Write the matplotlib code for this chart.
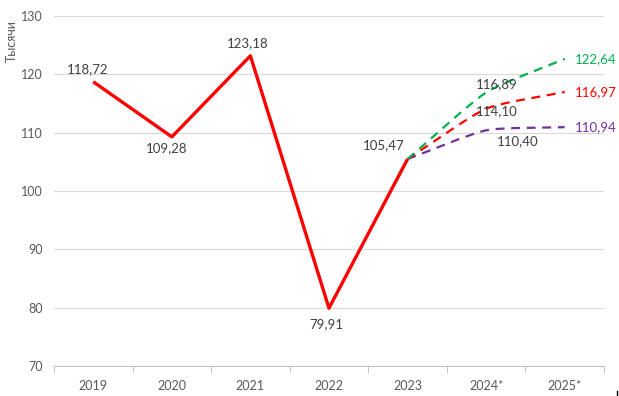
import matplotlib
matplotlib.use("Agg")
import matplotlib.pyplot as plt
from matplotlib.path import Path
from matplotlib.patches import PathPatch
from matplotlib.lines import Line2D
import numpy as np

plt.rcParams['font.family'] = ['Lato', 'DejaVu Sans']

categories = ['2019', '2020', '2021', '2022', '2023', '2024*', '2025*']
actual = [118.72, 109.28, 123.18, 79.91, 105.47]
forecast_high = [105.47, 116.89, 122.64]
forecast_base = [105.47, 114.10, 116.97]
forecast_low = [105.47, 110.40, 110.94]

RED = '#FF0000'
GREEN = '#00B050'
PURPLE = '#7030A0'
TXT = '#404040'
TICK = '#595959'

fig = plt.figure(figsize=(6.19, 3.96), dpi=100)
ax = fig.add_axes([0.0872, 0.0758, 0.8885, 0.8838])

def smooth_path(xs, ys, k=0.1):
    # mild Bezier smoothing through the data points (like Excel's smoothed line)
    pts = np.column_stack([xs, ys]).astype(float)
    n = len(pts)
    verts = [pts[0]]
    codes = [Path.MOVETO]
    for i in range(n - 1):
        p1 = pts[i]
        p2 = pts[i + 1]
        p0 = pts[i - 1] if i > 0 else 2 * p1 - p2
        p3 = pts[i + 2] if i + 2 < n else 2 * p2 - p1
        c1 = p1 + (p2 - p0) * k
        c2 = p2 - (p3 - p1) * k
        verts += [c1, c2, p2]
        codes += [Path.CURVE4] * 3
    return Path(verts, codes)

fx = [4, 5, 6]
for vals, col in [(forecast_low, PURPLE), (forecast_base, RED), (forecast_high, GREEN)]:
    patch = PathPatch(smooth_path(fx, vals), facecolor='none', edgecolor=col,
                      lw=1.6, linestyle=(0, (4, 3)), zorder=3)
    ax.add_patch(patch)

ax.plot(range(len(actual)), actual, color=RED, lw=2.4, zorder=4, solid_capstyle='butt')

ax.set_xlim(-0.5, 6.5)
ax.set_ylim(70, 130)
ax.set_yticks(range(70, 131, 10))
ax.set_xticks(range(len(categories)))
ax.set_xticklabels(categories)
ax.set_xticks(np.arange(-0.5, 6.6, 1), minor=True)
ax.tick_params(axis='x', which='major', length=0, pad=10, labelsize=9, labelcolor=TICK)
ax.tick_params(axis='x', which='minor', length=5, color='#BFBFBF', direction='out')
ax.tick_params(axis='y', length=0, pad=8, labelsize=9, labelcolor=TICK)
ax.grid(axis='y', color='#D9D9D9', lw=0.8)
ax.set_axisbelow(True)
for s in ['top', 'right', 'left']:
    ax.spines[s].set_visible(False)
ax.spines['bottom'].set_color('#BFBFBF')

fig.text(0.010, 0.95, 'Тысячи', rotation=90, ha='left', va='top', fontsize=9, color=TICK)

fs = 9.5
def fmt(v):
    return f'{v:.2f}'.replace('.', ',')

# actual labels (dx, dy in points)
offsets = [(-4, 5, 'bottom'), (-4, -4, 'top'), (-2, 5, 'bottom'), (-2, -7, 'top'), (-17, 6, 'bottom')]
for i, (v, (dx, dy, va)) in enumerate(zip(actual, offsets)):
    ax.annotate(fmt(v), (i, v), xytext=(dx, dy), textcoords='offset points',
                ha='center', va=va, fontsize=fs, color=TXT)

ax.annotate(fmt(forecast_high[1]), (5, forecast_high[1]), xytext=(8, 6),
            textcoords='offset points', ha='center', va='center', fontsize=fs, color=TXT)
ax.annotate(fmt(forecast_base[1]), (5, forecast_base[1]), xytext=(8, -2),
            textcoords='offset points', ha='center', va='center', fontsize=fs, color=TXT)
ax.annotate(fmt(forecast_low[1]), (5, forecast_low[1]), xytext=(23, -8),
            textcoords='offset points', ha='center', va='center', fontsize=fs, color=TXT)

for vals, col in [(forecast_high, GREEN), (forecast_base, RED), (forecast_low, PURPLE)]:
    ax.annotate(fmt(vals[2]), (6, vals[2]), xytext=(7, 0),
                textcoords='offset points', ha='left', va='center', fontsize=fs, color=col,
                annotation_clip=False)

# small edge mark at bottom-right corner as in the reference
fig.add_artist(Line2D([616.5 / 619, 616.5 / 619], [0, 5 / 396], color='black', lw=1.0,
                      transform=fig.transFigure))

fig.savefig('out.png', dpi=100)
